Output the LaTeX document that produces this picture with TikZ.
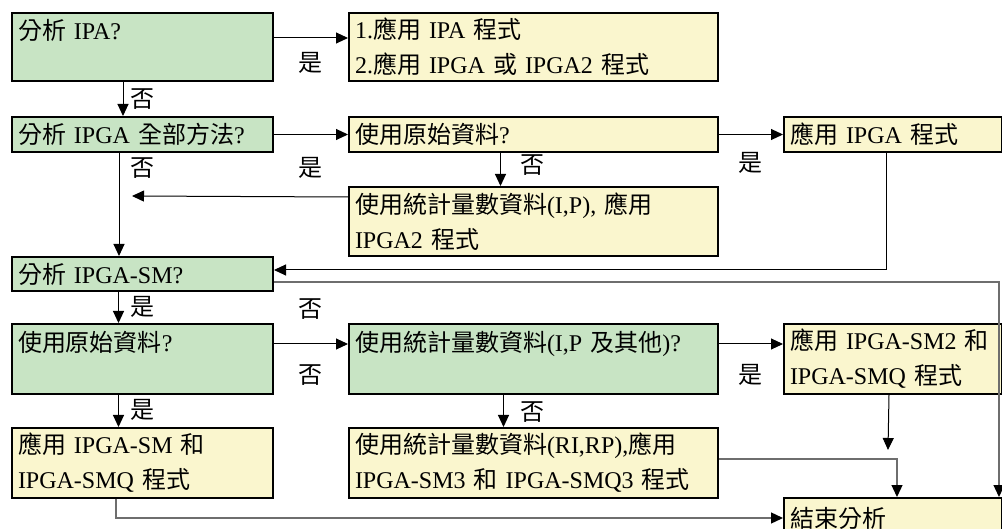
\documentclass[tikz,border=0pt]{standalone}
\usepackage{fontspec}
\setmainfont{Liberation Serif}
\newfontfamily\cjk{Noto Sans CJK TC}
\newcommand{\zh}[1]{{\cjk #1}}
\usetikzlibrary{arrows.meta}
\definecolor{askgreen}{RGB}{200,228,196}
\definecolor{doyellow}{RGB}{250,246,206}
\definecolor{flowgrey}{RGB}{110,110,110}

\begin{document}
\begin{tikzpicture}[x=1pt,y=-1pt,
   box/.style={draw, line width=2pt, anchor=north west, inner xsep=6pt, inner ysep=2pt,
      align=left, font=\fontsize{24}{35}\selectfont},
   ask/.style={box, fill=askgreen},
   todo/.style={box, fill=doyellow},
   lcol/.style={minimum width=261pt, text width=249pt},
   mcol/.style={minimum width=369pt, text width=357pt},
   rcol/.style={minimum width=218pt, text width=206pt},
   tall/.style={minimum height=70pt},
   flat/.style={minimum height=35pt},
   arr/.style={line width=1pt, -{Triangle[length=12pt,width=11pt,color=black]}},
   greyarr/.style={arr, draw=flowgrey, line width=1.3pt},
   lbl/.style={font=\fontsize{24}{28}\selectfont\cjk, inner sep=0pt}]
   \useasboundingbox (0,0) rectangle (1002,529);

   \node[ask, lcol, minimum height=68pt] (ipa) at (11,12) {\zh{分析} IPA?\\\mbox{}};
   \node[todo, mcol, minimum height=68pt] (useipa) at (348,12)
      {1.\zh{應用} IPA \zh{程式}\\2.\zh{應用} IPGA \zh{或} IPGA2 \zh{程式}};
   \node[ask, lcol, flat] (allm) at (11,116) {\zh{分析} IPGA \zh{全部方法}?};
   \node[todo, mcol, flat] (raw1) at (348,116) {\zh{使用原始資料}?};
   \node[todo, rcol, flat] (ipga) at (783,116) {\zh{應用} IPGA \zh{程式}};
   \node[todo, mcol, minimum height=69pt] (stat1) at (348,186)
      {\zh{使用統計量數資料}(I,P), \zh{應用}\\IPGA2 \zh{程式}};
   \node[ask, lcol, minimum height=34pt] (sm) at (11,256) {\zh{分析} IPGA-SM?};
   \node[ask, lcol, tall] (raw2) at (11,323) {\zh{使用原始資料}?\\\mbox{}};
   \node[ask, mcol, tall] (stat2) at (348,323) {\zh{使用統計量數資料}(I,P \zh{及其他})?\\\mbox{}};
   \node[todo, rcol, tall] (sm2) at (783,323) {\zh{應用} IPGA-SM2 \zh{和}\\IPGA-SMQ \zh{程式}};
   \node[todo, lcol, tall] (sm1) at (11,427) {\zh{應用} IPGA-SM \zh{和}\\IPGA-SMQ \zh{程式}};
   \node[todo, mcol, tall] (sm3) at (348,427)
      {\zh{使用統計量數資料}(RI,RP),\zh{應用}\\IPGA-SM3 \zh{和} IPGA-SMQ3 \zh{程式}};
   \node[todo, rcol, minimum height=40pt] (done) at (783,497) {\zh{結束分析}};

   \coordinate (fjoin) at (132,196);
   \coordinate (jend) at (888,450);

   \draw[arr] ([yshift=9pt]ipa.east) -- ([yshift=9pt]ipa.east -| useipa.west);
   \draw[arr] ([xshift=-19.5pt]ipa.south) -- ([xshift=-19.5pt]ipa.south |- allm.north);
   \draw[arr] (allm.east) -- (allm.east -| raw1.west);
   \draw[arr] (raw1.east) -- (raw1.east -| ipga.west);
   \draw[arr] ([xshift=-33pt]raw1.south) -- ([xshift=-33pt]raw1.south |- stat1.north);
   \draw[arr] ([yshift=24.5pt]stat1.west) -- (fjoin);
   \draw[arr] ([xshift=-23.5pt]allm.south) -- ([xshift=-23.5pt]allm.south |- sm.north);
   \draw[arr] ([xshift=-7pt]ipga.south) |- ([yshift=4pt]sm.east);
   \draw[greyarr] ([yshift=-8pt]sm.east) -| ([xshift=106pt]done.north);
   \draw[arr] ([xshift=-24pt]sm.south) -- ([xshift=-24pt]sm.south |- raw2.north);
   \draw[arr] ([yshift=15pt]raw2.east) -- ([yshift=15pt]raw2.east -| stat2.west);
   \draw[arr] ([xshift=-24pt]raw2.south) -- ([xshift=-24pt]raw2.south |- sm1.north);
   \draw[arr] ([yshift=15pt]stat2.east) -- ([yshift=15pt]stat2.east -| sm2.west);
   \draw[arr] ([xshift=-30pt]stat2.south) -- ([xshift=-30pt]stat2.south |- sm3.north);
   \draw[arr] ([xshift=-4pt]sm2.south) -- (jend);
   \draw[greyarr] ([yshift=4pt]sm3.east) -| ([xshift=4pt]done.north);
   \draw[greyarr] ([xshift=-26.5pt]sm1.south) |- (done.west);

   \node[lbl] (yes1) at (310,63) {是};
   \node[lbl] (no1) at (142,99) {否};
   \node[lbl] (no2) at (142,168) {否};
   \node[lbl] (yes2) at (310,168) {是};
   \node[lbl] (no3) at (532,165) {否};
   \node[lbl] (yes3) at (750,163) {是};
   \node[lbl] (yes4) at (142,307) {是};
   \node[lbl] (no4) at (310,309) {否};
   \node[lbl] (no5) at (310,375) {否};
   \node[lbl] (yes5) at (142,410) {是};
   \node[lbl] (yes6) at (750,375) {是};
   \node[lbl] (no6) at (532,412) {否};
\end{tikzpicture}
\end{document}
